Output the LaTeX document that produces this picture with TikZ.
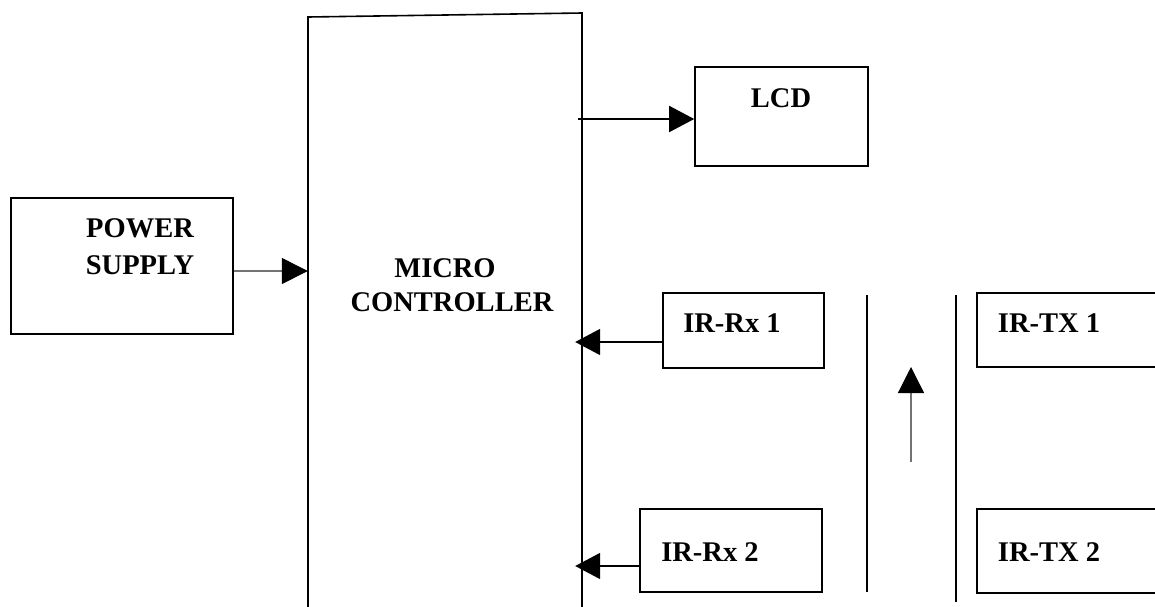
\documentclass[tikz,border=0pt]{standalone}
\usepackage{fontspec}
\setmainfont{Liberation Serif}
\usetikzlibrary{arrows.meta}
\tikzset{
  box/.style={draw=black, line width=1.6pt, rectangle, inner sep=0pt},
  lbl/.style={font=\fontsize{28.5}{30}\selectfont\bfseries, inner sep=0pt, anchor=center},
  arr/.style={line width=1.8pt, -{Triangle[length=25pt,width=26pt]}},
  garr/.style={line width=1.3pt, draw=black!55, -{Triangle[length=26pt,width=26pt,fill=black,color=black]}},
  divider/.style={line width=1.4pt}
}
\begin{document}
\begin{tikzpicture}[x=1pt,y=-1pt]
\useasboundingbox (0,0) rectangle (1155,606);
\fill[white] (0,0) rectangle (1155,606);
\begin{scope}
\clip (0,0) rectangle (1155,606);
% micro controller (open at bottom)
\node[inner sep=0pt, minimum width=274pt, minimum height=610pt] (mc) at (445,320) {};
\draw[line width=1.6pt] (308,620) -- (308,17) -- (582,13) -- (582,620);
% boxes
\node[box, minimum width=222pt, minimum height=136pt] (ps) at (122,266) {};
\node[box, minimum width=173pt, minimum height=99pt] (lcd) at (781.5,116.5) {};
\node[box, minimum width=161pt, minimum height=75pt] (rx1) at (743.5,330.5) {};
\node[box, minimum width=182pt, minimum height=83pt] (rx2) at (731,550.5) {};
\node[box, minimum width=240pt, minimum height=74pt] (tx1) at (1097,330) {};
\node[box, minimum width=240pt, minimum height=84pt] (tx2) at (1097,551) {};
% texts
\node[lbl] (tpower) at (140,228) {POWER};
\node[lbl] (tsupply) at (140,265) {SUPPLY};
\node[lbl] (tmicro) at (445,268) {MICRO};
\node[lbl] (tctrl) at (452,302) {CONTROLLER};
\node[lbl] (tlcd) at (781,98) {LCD};
\node[lbl] (trx1) at (732,323) {IR-Rx 1};
\node[lbl] (trx2) at (710,552) {IR-Rx 2};
\node[lbl] (ttx1) at (1049,323) {IR-TX 1};
\node[lbl] (ttx2) at (1049,552) {IR-TX 2};
% dividers
\coordinate (d1t) at (867,295); \coordinate (d1b) at (867,592);
\coordinate (d2t) at (956,295); \coordinate (d2b) at (956,602);
\draw[divider] (d1t) -- (d1b);
\draw[divider] (d2t) -- (d2b);
% connector end points
\coordinate (psa) at ([yshift=-5pt]ps.east);
\coordinate (lcda) at ([yshift=-2.5pt]lcd.west);
\coordinate (rx1a) at ([yshift=-11.5pt]rx1.west);
\coordinate (rx2a) at ([yshift=-15.5pt]rx2.west);
% connectors
\draw[garr] (psa) -- (mc.west |- psa);
\draw[arr] ([xshift=-4pt]mc.east |- lcda) -- (lcda);
\draw[arr, shorten >=-7pt] (rx1a) -- (mc.east |- rx1a);
\draw[arr, shorten >=-7pt] (rx2a) -- (mc.east |- rx2a);
\coordinate (ub) at (911,462); \coordinate (ut) at (911,367);
\draw[garr] (ub) -- (ut);
\end{scope}
\end{tikzpicture}
\end{document}
